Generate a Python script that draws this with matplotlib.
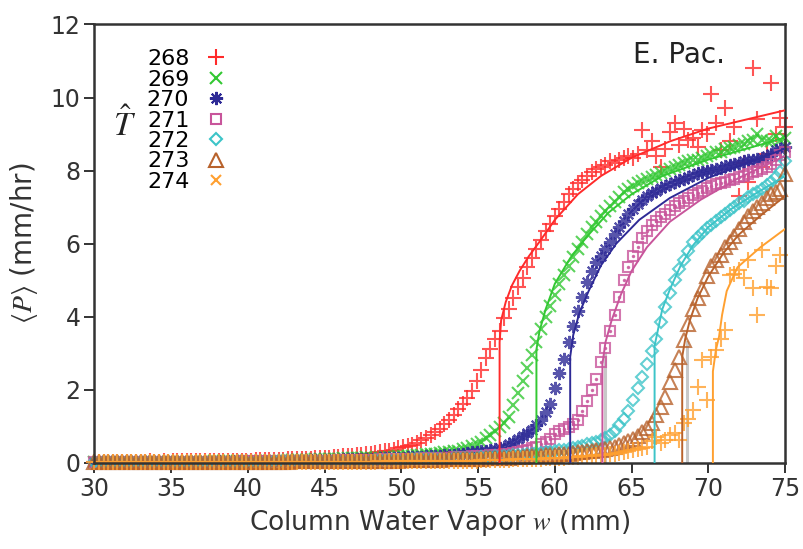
import matplotlib.pyplot as plt
from matplotlib.lines import Line2D
import numpy as np

plt.rcParams['font.family'] = ['DejaVu Sans']
plt.rcParams['mathtext.fontset'] = 'stix'

# bin centres of column water vapour (mm), 0.3 mm bins from 30 to 75
w_bins = np.round(30 + 0.3 * np.arange(151), 1)

p_268 = [.03, .02, .03, .02, .03, .03, .02, .03, .03, .03,
         .03, .03, .04, .03, .03, .04, .03, .04, .04, .04,
         .04, .04, .04, .05, .04, .05, .05, .05, .05, .06,
         .05, .06, .06, .06, .06, .07, .07, .07, .08, .08,
         .08, .08, .09, .09, .10, .10, .11, .11, .12, .12,
         .13, .14, .15, .16, .17, .18, .19, .20, .22, .23,
         .25, .27, .29, .31, .33, .36, .39, .42, .45, .49,
         .55, .61, .68, .75, .84, .93, 1.05, 1.18, 1.31, 1.47,
         1.62, 1.78, 1.97, 2.25, 2.55, 2.88, 3.12, 3.38, 3.60, 3.95,
         4.20, 4.50, 4.80, 5.05, 5.35, 5.60, 5.85, 6.10, 6.35, 6.55,
         6.75, 6.95, 7.15, 7.35, 7.50, 7.65, 7.75, 7.85, 7.95, 8.05,
         8.10, 8.15, 8.25, 8.20, 8.30, 8.35, 8.40, 8.35, 8.45, 9.10,
         8.55, 8.80, 8.40, 8.10, 8.60, 9.05, 9.30, 8.70, 9.15, 8.85,
         8.90, 8.65, 9.10, 9.00, 10.10, 9.30, 8.55, 9.70, 8.80, 9.20,
         7.30, 8.20, 7.68, 10.80, 9.40, 8.10, 8.45, 10.40, 9.00, 9.45,
         9.20]

p_269 = [.02, .02, .03, .02, .02, .03, .02, .02, .03, .02,
         .02, .03, .02, .03, .03, .02, .03, .03, .03, .03,
         .03, .03, .03, .03, .04, .03, .04, .04, .04, .04,
         .04, .04, .04, .05, .05, .05, .05, .05, .06, .06,
         .06, .06, .07, .07, .07, .08, .08, .08, .09, .09,
         .10, .10, .11, .11, .12, .12, .13, .14, .14, .15,
         .13, .13, .14, .15, .15, .16, .17, .17, .18, .19,
         .20, .21, .23, .24, .25, .27, .28, .30, .31, .33,
         .37, .40, .45, .50, .58, .67, .76, .86, .97, 1.10,
         1.25, 1.58, 1.90, 2.25, 2.60, 2.95, 3.30, 3.65, 3.98, 4.30,
         4.60, 4.90, 5.15, 5.40, 5.62, 5.85, 6.05, 6.25, 6.45, 6.60,
         6.75, 6.90, 7.02, 7.15, 7.28, 7.40, 7.50, 7.58, 7.65, 7.72,
         7.78, 7.82, 7.88, 7.92, 7.98, 8.05, 8.10, 8.15, 8.20, 8.25,
         8.28, 8.30, 8.35, 8.40, 8.45, 8.50, 8.52, 8.58, 8.62, 8.65,
         8.70, 8.72, 8.80, 8.85, 9.00, 8.85, 8.80, 8.80, 8.95, 8.85,
         8.90]

p_270 = [.02, .02, .02, .02, .02, .02, .02, .02, .02, .03,
         .02, .02, .03, .02, .03, .02, .03, .03, .02, .03,
         .03, .03, .03, .03, .03, .03, .03, .04, .03, .04,
         .04, .04, .04, .04, .04, .04, .05, .05, .05, .05,
         .05, .05, .05, .06, .06, .06, .06, .07, .07, .07,
         .07, .08, .08, .08, .09, .09, .09, .10, .10, .10,
         .11, .11, .12, .12, .13, .13, .14, .14, .15, .15,
         .16, .16, .17, .18, .19, .19, .20, .21, .22, .24,
         .25, .26, .28, .29, .31, .33, .35, .37, .40, .43,
         .50, .56, .64, .72, .80, .90, 1.02, 1.18, 1.38, 1.60,
         2.05, 2.45, 2.85, 3.30, 3.75, 4.15, 4.55, 4.95, 5.25, 5.50,
         5.65, 5.85, 6.05, 6.25, 6.45, 6.62, 6.80, 6.95, 7.08, 7.20,
         7.30, 7.38, 7.45, 7.52, 7.58, 7.63, 7.68, 7.73, 7.78, 7.82,
         7.88, 7.92, 7.95, 8.00, 8.02, 8.05, 8.08, 8.12, 8.15, 8.18,
         8.22, 8.25, 8.28, 8.30, 8.33, 8.35, 8.40, 8.45, 8.55, 8.60,
         8.65]

p_271 = [.02, .02, .02, .02, .02, .02, .02, .02, .02, .02,
         .02, .02, .02, .02, .02, .03, .02, .03, .03, .03,
         .03, .03, .03, .03, .03, .03, .03, .03, .03, .03,
         .03, .03, .04, .04, .04, .04, .04, .04, .04, .04,
         .04, .05, .05, .05, .05, .05, .05, .06, .06, .06,
         .06, .06, .06, .07, .07, .07, .07, .07, .08, .08,
         .08, .08, .09, .09, .09, .10, .10, .10, .11, .11,
         .11, .12, .12, .12, .13, .13, .14, .14, .15, .15,
         .16, .16, .17, .18, .18, .19, .20, .21, .22, .23,
         .25, .27, .29, .32, .35, .39, .44, .50, .57, .66,
         .78, .86, .92, .98, 1.06, 1.18, 1.42, 1.70, 2.00, 2.30,
         2.75, 3.15, 3.60, 4.05, 4.55, 5.00, 5.35, 5.65, 5.92, 6.15,
         6.35, 6.50, 6.62, 6.72, 6.82, 6.92, 7.02, 7.10, 7.18, 7.25,
         7.32, 7.38, 7.45, 7.52, 7.58, 7.62, 7.66, 7.70, 7.74, 7.78,
         7.82, 7.86, 7.90, 7.95, 8.00, 8.05, 8.10, 8.18, 8.30, 8.42,
         8.50]

p_272 = [.02, .02, .02, .02, .02, .02, .02, .02, .02, .02,
         .02, .02, .02, .02, .02, .02, .02, .02, .02, .02,
         .02, .02, .02, .03, .02, .03, .03, .03, .03, .03,
         .03, .03, .03, .03, .03, .03, .03, .03, .03, .04,
         .04, .04, .04, .04, .04, .04, .04, .04, .05, .05,
         .05, .05, .05, .05, .05, .06, .06, .06, .06, .06,
         .06, .07, .07, .07, .07, .08, .08, .08, .08, .09,
         .09, .09, .10, .10, .10, .11, .11, .11, .12, .12,
         .13, .13, .14, .14, .15, .15, .16, .17, .17, .18,
         .19, .20, .21, .22, .23, .24, .26, .27, .29, .30,
         .32, .34, .36, .38, .41, .44, .47, .50, .53, .56,
         .62, .68, .76, .88, 1.02, 1.20, 1.42, 1.72, 2.05, 2.35,
         2.70, 3.05, 3.40, 3.85, 4.25, 4.65, 5.00, 5.30, 5.55, 5.80,
         6.05, 6.18, 6.30, 6.42, 6.52, 6.62, 6.72, 6.82, 6.92, 7.00,
         7.10, 7.18, 7.27, 7.35, 7.42, 7.50, 7.60, 7.70, 7.82, 7.95,
         8.25]

p_273 = [.01, .02, .01, .02, .02, .01, .02, .02, .02, .02,
         .02, .02, .02, .02, .02, .02, .02, .02, .02, .02,
         .02, .02, .02, .02, .02, .02, .03, .02, .03, .03,
         .03, .03, .03, .03, .03, .03, .03, .03, .03, .03,
         .03, .03, .03, .04, .04, .04, .04, .04, .04, .04,
         .04, .04, .04, .05, .05, .05, .05, .05, .05, .05,
         .05, .06, .06, .06, .06, .06, .06, .07, .07, .07,
         .07, .07, .08, .08, .08, .08, .09, .09, .09, .10,
         .10, .10, .11, .11, .11, .12, .12, .13, .13, .14,
         .14, .15, .15, .16, .17, .17, .18, .19, .20, .21,
         .22, .23, .24, .25, .26, .28, .29, .31, .32, .34,
         .36, .38, .41, .44, .48, .53, .59, .66, .74, .83,
         .95, 1.10, 1.30, 1.52, 1.80, 2.20, 2.55, 2.90, 3.35, 3.80,
         4.20, 4.50, 4.75, 5.10, 5.40, 5.55, 5.70, 5.90, 6.05, 6.20,
         6.40, 6.60, 6.75, 6.90, 7.00, 7.10, 7.25, 7.35, 7.40, 7.50,
         7.90]

p_274 = [.01, .01, .01, .01, .01, .01, .01, .01, .01, .01,
         .01, .01, .01, .01, .01, .01, .01, .01, .01, .01,
         .01, .01, .01, .01, .01, .02, .01, .01, .02, .01,
         .02, .01, .02, .02, .02, .02, .02, .02, .02, .02,
         .02, .02, .02, .02, .02, .02, .02, .02, .03, .02,
         .03, .02, .03, .03, .03, .03, .03, .03, .03, .03,
         .03, .03, .04, .03, .04, .04, .04, .04, .04, .04,
         .04, .05, .04, .05, .05, .05, .05, .05, .06, .05,
         .06, .06, .06, .06, .07, .07, .07, .07, .08, .08,
         .08, .09, .09, .09, .10, .10, .11, .11, .12, .12,
         .13, .13, .14, .15, .15, .16, .17, .18, .19, .20,
         .21, .22, .24, .25, .27, .29, .31, .34, .37, .40,
         .43, .60, .70, .55, .62, .75, .80, .62, 1.08, 1.20,
         1.44, 2.07, 2.80, 1.71, 2.90, 3.08, 3.40, 3.63, 5.14, 5.18,
         5.27, 5.05, 5.55, 4.78, 4.04, 5.82, 4.80, 4.78, 5.40, 5.68,
         np.nan]

# fitted curves (vertical rise at the critical value)
fit_w_268 = [56.4, 56.4, 56.5, 56.8, 57.2, 57.7, 58.3, 59.0, 60.0, 61.5, 63.0, 65.0, 67.5, 70.0, 72.5, 75.0]
fit_p_268 = [0, 3.3, 3.9, 4.4, 4.85, 5.25, 5.65, 6.05, 6.65, 7.35, 7.85, 8.35, 8.8, 9.15, 9.4, 9.65]
fit_w_269 = [58.8, 58.8, 59.0, 59.4, 60.0, 61.0, 62.0, 63.5, 65.0, 67.0, 70.0, 75.0]
fit_p_269 = [0, 3.1, 3.6, 4.2, 4.9, 5.6, 6.15, 6.85, 7.35, 7.85, 8.3, 8.9]
fit_w_270 = [61.0, 61.0, 61.2, 61.6, 62.2, 63.0, 64.0, 65.5, 67.5, 70.0, 72.5, 75.0]
fit_p_270 = [0, 2.9, 3.5, 4.1, 4.7, 5.4, 6.0, 6.65, 7.25, 7.8, 8.2, 8.6]
fit_w_271 = [63.1, 63.1, 63.3, 63.7, 64.3, 65.0, 66.0, 67.5, 69.5, 72.0, 75.0]
fit_p_271 = [0, 2.7, 3.3, 3.9, 4.6, 5.25, 5.9, 6.6, 7.2, 7.8, 8.4]
fit_w_272 = [66.5, 66.5, 66.7, 67.0, 67.5, 68.2, 69.0, 70.0, 71.5, 73.0, 75.0]
fit_p_272 = [0, 3.2, 3.6, 4.2, 4.75, 5.4, 5.95, 6.45, 6.95, 7.35, 7.85]
fit_w_273 = [68.3, 68.3, 68.5, 68.8, 69.3, 70.0, 71.0, 72.0, 73.5, 75.0]
fit_p_273 = [0, 2.9, 3.4, 3.9, 4.5, 5.1, 5.75, 6.25, 6.8, 7.3]
fit_w_274 = [70.3, 70.3, 70.5, 70.7, 70.9, 71.2, 71.9, 73.4, 75.0]
fit_p_274 = [0, 2.5, 3.1, 3.45, 4.05, 4.7, 5.35, 5.9, 6.4]

# faint grey vertical segments next to some critical values
grey_w = [63.3, 68.6]
grey_top = [3.0, 3.3]

labels = ['268', '269', '270', '271', '272', '273', '274']
colors = ['#ff2a2a', '#33c833', '#2e2a96', '#c8559b', '#3cc4c8', '#b8622c', '#ffa030']
markers = ['+', 'x', (8, 2, 0), 's', 'D', '^', '+']
msizes = [11, 8.5, 9.5, 7.5, 6.5, 9.5, 11]
hollow = [False, False, False, True, True, True, False]
series = [p_268, p_269, p_270, p_271, p_272, p_273, p_274]
fits = [(fit_w_268, fit_p_268), (fit_w_269, fit_p_269), (fit_w_270, fit_p_270),
        (fit_w_271, fit_p_271), (fit_w_272, fit_p_272), (fit_w_273, fit_p_273),
        (fit_w_274, fit_p_274)]

fig = plt.figure(figsize=(8.04, 5.49), dpi=100)
ax = fig.add_axes([0.1175, 0.1572, 0.8589, 0.7982])

for gw, gt in zip(grey_w, grey_top):
    ax.plot([gw, gw], [0, gt], color='#c8c8c8', lw=2.2, zorder=1)

handles = []
for p, c, m, ms, h, (fw, fp), lab in zip(series, colors, markers, msizes, hollow, fits, labels):
    ax.plot(w_bins, p, linestyle='none', marker=m, markersize=ms,
            markeredgecolor=c, markerfacecolor='none' if h else c,
            markeredgewidth=1.5, alpha=0.8, clip_on=False, zorder=2)
    if m == 's':
        ax.plot(w_bins, p, linestyle='none', marker='o', markersize=1.5,
                color=c, alpha=0.8, clip_on=False, zorder=2)
    ax.plot(fw, fp, color=c, lw=1.4, zorder=3)
    hm = 'x' if lab == '274' else m
    hs = 6.5 if lab == '274' else ms
    handles.append(Line2D([], [], linestyle='none', marker=hm, markersize=hs,
                          markeredgecolor=c, markerfacecolor='none' if h else c,
                          markeredgewidth=1.5))

ax.legend(handles, labels, loc='upper left', bbox_to_anchor=(0.05, 0.984),
          frameon=False, markerfirst=False, fontsize=16, handlelength=0.8,
          handletextpad=0.8, labelspacing=0.02, borderpad=0.3)
ax.text(0.044, 0.77, r'$\hat{T}$', transform=ax.transAxes, fontsize=24,
        ha='center', va='center', color='#222222')
ax.text(0.913, 0.93, 'E. Pac.', transform=ax.transAxes, fontsize=20,
        ha='right', va='center', color='#222222')

ax.set_xlim(30, 75)
ax.set_ylim(0, 12)
ax.set_xticks(np.arange(30, 76, 5))
ax.set_yticks(np.arange(0, 13, 2))
ax.tick_params(direction='out', length=7, width=1.4, labelsize=17,
               colors='#333333', pad=3)
for s in ax.spines.values():
    s.set_linewidth(1.8)
    s.set_color('#333333')
ax.set_xlabel(r'Column Water Vapor $w$ (mm)', fontsize=19, color='#333333', labelpad=5)
ax.set_ylabel(r'$\langle P\rangle$ (mm/hr)', fontsize=20, color='#333333', labelpad=8)

fig.savefig('out.png', dpi=100)
